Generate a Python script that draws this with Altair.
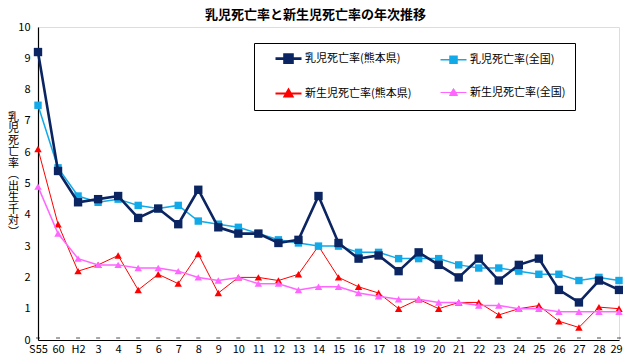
import altair as alt
import pandas as pd

years = ["S55", "60", "H2", "3", "4", "5", "6", "7", "8", "9", "10", "11", "12", "13", "14",
         "15", "16", "17", "18", "19", "20", "21", "22", "23", "24", "25", "26", "27", "28", "29"]

infant_kumamoto = [9.2, 5.4, 4.4, 4.5, 4.6, 3.9, 4.2, 3.7, 4.8, 3.6, 3.4, 3.4, 3.1, 3.2, 4.6,
                   3.1, 2.6, 2.7, 2.2, 2.8, 2.4, 2.0, 2.6, 1.9, 2.4, 2.6, 1.6, 1.2, 1.9, 1.6]
infant_national = [7.5, 5.5, 4.6, 4.4, 4.5, 4.3, 4.2, 4.3, 3.8, 3.7, 3.6, 3.4, 3.2, 3.1, 3.0,
                   3.0, 2.8, 2.8, 2.6, 2.6, 2.6, 2.4, 2.3, 2.3, 2.2, 2.1, 2.1, 1.9, 2.0, 1.9]
neonatal_kumamoto = [6.1, 3.7, 2.2, 2.4, 2.7, 1.6, 2.1, 1.8, 2.75, 1.5, 2.0, 2.0, 1.9, 2.1, 3.0,
                     2.0, 1.7, 1.5, 1.0, 1.3, 1.0, 1.2, 1.2, 0.8, 1.0, 1.1, 0.6, 0.4, 1.05, 1.0]
neonatal_national = [4.9, 3.4, 2.6, 2.4, 2.4, 2.3, 2.3, 2.2, 2.0, 1.9, 2.0, 1.8, 1.8, 1.6, 1.7,
                     1.7, 1.5, 1.4, 1.3, 1.3, 1.2, 1.2, 1.1, 1.1, 1.0, 1.0, 0.9, 0.9, 0.9, 0.9]

series_names = ["乳児死亡率(熊本県)", "乳児死亡率(全国)", "新生児死亡率(熊本県)", "新生児死亡率(全国)"]
series_values = [infant_kumamoto, infant_national, neonatal_kumamoto, neonatal_national]
colors = ["#0B2462", "#12A9E8", "#FF0000", "#FF66FF"]
widths = [2.6, 1.5, 1.0, 1.5]
marker_shapes = ["square", "square", "triangle-up", "triangle-up"]
marker_sizes = [70, 55, 55, 55]
# legend symbol: short line with marker (unit = 5px, shifted right of the symbol box)
legend_paths = [
    "M1.2,0H6.4M3,-0.8H4.6V0.8H3Z",
    "M1.2,0H6.4M3.1,-0.7H4.5V0.7H3.1Z",
    "M1.2,0H6.4M3.8,-0.8L4.6,0.6H3Z",
    "M1.2,0H6.4M3.8,-0.8L4.6,0.6H3Z",
]
# Vega fills legend columns first, so order the legend domain column-wise
legend_order = [0, 2, 1, 3]
legend_domain = [series_names[i] for i in legend_order]
legend_colors = [colors[i] for i in legend_order]
legend_widths = [widths[i] for i in legend_order]
legend_shapes = [legend_paths[i] for i in legend_order]

rows = []
for name, vals in zip(series_names, series_values):
    for i, (yr, v) in enumerate(zip(years, vals)):
        rows.append({"year": yr, "series": name, "value": v, "idx": i})
df = pd.DataFrame(rows)

FONT = "Noto Sans CJK JP"

x_enc = alt.X("year:N", sort=years, scale=alt.Scale(type="point", padding=0),
              axis=alt.Axis(title=None, labelAngle=0, labelFontSize=11, labelFont=FONT,
                            labelColor="black", ticks=False, labelPadding=3,
                            labelOverlap=False,
                            labelOffset={"condition": {"test": "datum.value == '29'", "value": -3},
                                         "value": 0},
                            domainColor="black", domainWidth=1.2))
y_enc = alt.Y("value:Q", scale=alt.Scale(domain=[0, 10], nice=False),
              axis=alt.Axis(values=list(range(0, 11)), ticks=False, labelPadding=8,
                            labelOverlap=False,
                            labelFontSize=11, labelFont=FONT, labelColor="black",
                            grid=False, domainColor="black", domainWidth=1.2,
                            title=["乳", "児", "死", "亡", "率", "︵", "出", "生", "千", "対", "︶"],
                            titleAngle=0, titleX=-25, titleY=84, titleAlign="center",
                            titleBaseline="top", titleFont=FONT, titleFontSize=11,
                            titleFontWeight="normal", titleLineHeight=11.5,
                            titleColor="black"))

draw_order = [2, 3, 1, 0]
layers = []

# small inner tick marks on the x axis
ticks = alt.Chart(pd.DataFrame({"year": years, "value": [0] * len(years)})).mark_tick(
    color="black", size=4, thickness=1, yOffset=-2
).encode(x=x_enc, y=y_enc)
layers.append(ticks)

for k in draw_order:
    sub = df[df["series"] == series_names[k]]
    base = alt.Chart(sub)
    line = base.mark_line(color=colors[k], strokeWidth=widths[k]).encode(
        x=x_enc, y=y_enc, order="idx:Q")
    pts = base.mark_point(filled=True, opacity=1, color=colors[k], shape=marker_shapes[k],
                          size=marker_sizes[k]).encode(x=x_enc, y=y_enc)
    layers += [line, pts]

# legend-only layer (marks clipped away outside the plot)
legend_layer = alt.Chart(df).mark_point(filled=True, clip=True, opacity=1).encode(
    y=alt.value(-200),
    color=alt.Color("series:N", sort=legend_domain,
                    scale=alt.Scale(domain=legend_domain, range=legend_colors),
                    legend=alt.Legend(title=None, orient="none", legendX=216, legendY=16,
                                      columns=2, symbolSize=100, columnPadding=16,
                                      rowPadding=17, labelFont=FONT, labelFontSize=11,
                                      labelColor="black", labelOffset=29,
                                      strokeColor="black", padding=9,
                                      symbolOpacity=1, labelLimit=200)),
    stroke=alt.Stroke("series:N", sort=legend_domain,
                      scale=alt.Scale(domain=legend_domain, range=legend_colors)),
    shape=alt.Shape("series:N", sort=legend_domain,
                    scale=alt.Scale(domain=legend_domain, range=legend_shapes)),
    strokeWidth=alt.StrokeWidth("series:N", sort=legend_domain,
                                scale=alt.Scale(domain=legend_domain, range=legend_widths)),
)
layers.append(legend_layer)

chart = alt.layer(*layers).properties(
    width=581, height=313,
    title=alt.TitleParams("乳児死亡率と新生児死亡率の年次推移", font=FONT, fontSize=13,
                          fontWeight="bold", anchor="middle", dx=-13, offset=-1,
                          color="black"),
    autosize=alt.AutoSizeParams(type="none"),
    padding={"left": 30, "top": 19, "right": 4, "bottom": 13},
).configure_view(stroke="black", strokeWidth=1.2).configure(background="white")

chart.save("out.html", embed_options={"renderer": "svg", "actions": False})
